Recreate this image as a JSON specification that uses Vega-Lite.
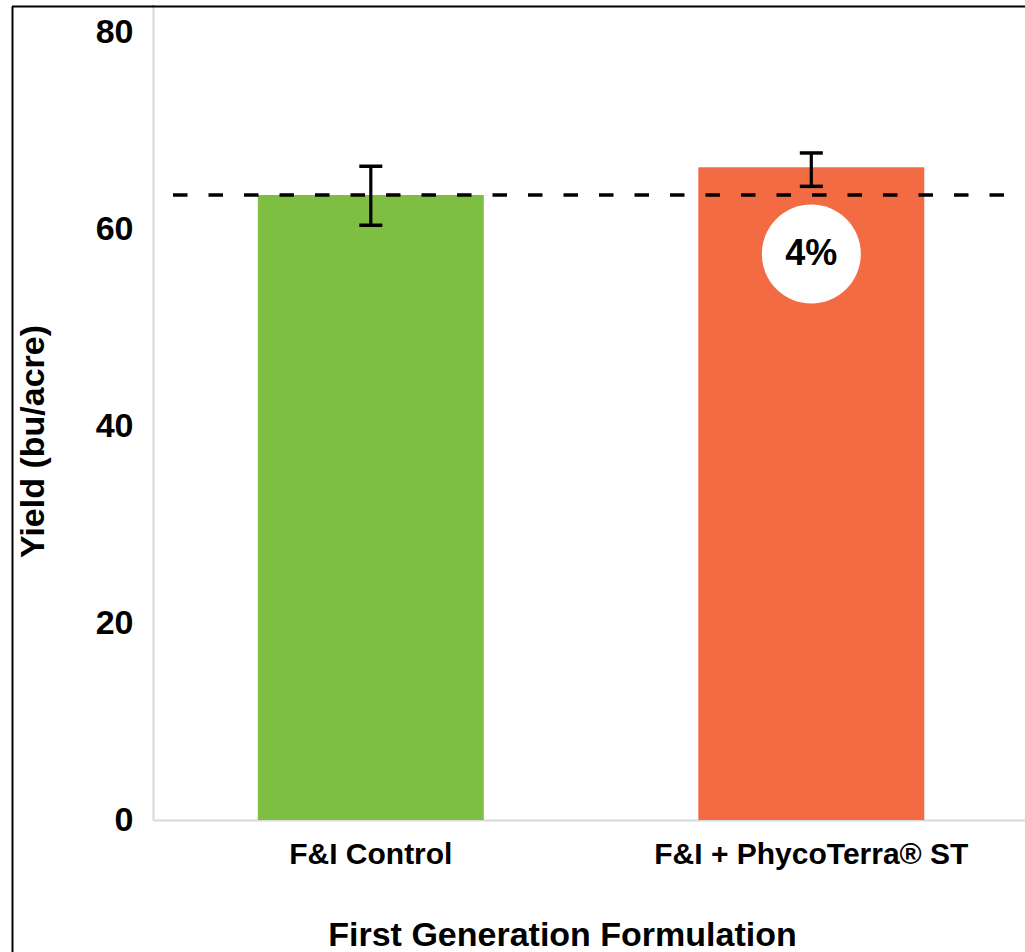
{
  "$schema": "https://vega.github.io/schema/vega-lite/v6.json",
  "width": 872,
  "height": 814,
  "autosize": "none",
  "padding": {"left": 153, "top": 6, "right": 0, "bottom": 132},
  "background": "white",
  "config": {
    "view": {"stroke": null},
    "font": "Liberation Sans",
    "axis": {"grid": false}
  },
  "datasets": {
    "bars": [
      {"treatment": "F&I Control", "yield": 63.45, "lo": 60.38, "hi": 66.37},
      {"treatment": "F&I + PhycoTerra® ST", "yield": 66.26, "lo": 64.33, "hi": 67.72}
    ],
    "note": [
      {"treatment": "F&I + PhycoTerra® ST", "pos": 57.46, "label": "4%"}
    ]
  },
  "layer": [
    {
      "data": {"name": "bars"},
      "mark": {"type": "bar"},
      "encoding": {
        "x": {
          "field": "treatment",
          "type": "nominal",
          "sort": null,
          "scale": {"paddingInner": 0.487, "paddingOuter": 0.2333, "align": 0.51},
          "axis": {
            "orient": "bottom",
            "labelAngle": 0,
            "labelFontSize": 30,
            "labelFontWeight": "bold",
            "labelColor": "#000000",
            "labelPadding": 43,
            "labelBaseline": "alphabetic",
            "labelLimit": 0,
            "ticks": false,
            "tickSize": 0,
            "domainColor": "#d9d9d9",
            "domainWidth": 2,
            "title": "First Generation Formulation",
            "titleFontSize": 34,
            "titleFontWeight": "bold",
            "titleColor": "#000000",
            "titleX": 409,
            "titleY": 125,
            "titleAlign": "center",
            "titleBaseline": "alphabetic",
            "titleLimit": 0
          }
        },
        "y": {
          "field": "yield",
          "type": "quantitative",
          "scale": {"domain": [0, 82.64], "nice": false, "zero": true},
          "axis": {
            "orient": "left",
            "values": [0, 20, 40, 60, 80],
            "labelFontSize": 34,
            "labelFontWeight": "bold",
            "labelColor": "#000000",
            "labelPadding": 20,
            "ticks": false,
            "tickSize": 0,
            "domainColor": "#d9d9d9",
            "domainWidth": 2,
            "title": "Yield (bu/acre)",
            "titleFontSize": 34,
            "titleFontWeight": "bold",
            "titleColor": "#000000",
            "titleAngle": -90,
            "titleX": -110,
            "titleY": 435,
            "titleAlign": "center",
            "titleBaseline": "alphabetic",
            "titleLimit": 0
          }
        },
        "color": {
          "field": "treatment",
          "type": "nominal",
          "scale": {"domain": ["F&I Control", "F&I + PhycoTerra® ST"], "range": ["#7DBE43", "#F26B43"]},
          "legend": null
        }
      }
    },
    {
      "data": {"name": "bars"},
      "transform": [{"filter": "datum.treatment == 'F&I Control'"}],
      "mark": {"type": "rule", "color": "#000000", "strokeWidth": 3.5, "strokeDash": [14.5, 21], "strokeDashOffset": 14.5},
      "encoding": {
        "y": {"field": "yield", "type": "quantitative", "axis": null}
      }
    },
    {
      "data": {"name": "bars"},
      "mark": {"type": "rule", "color": "#000000", "strokeWidth": 3.2},
      "encoding": {
        "x": {"field": "treatment", "type": "nominal", "sort": null, "axis": null},
        "y": {"field": "lo", "type": "quantitative", "axis": null},
        "y2": {"field": "hi"}
      }
    },
    {
      "data": {"name": "bars"},
      "mark": {"type": "tick", "color": "#000000", "size": 23, "thickness": 3.5, "opacity": 1},
      "encoding": {
        "x": {"field": "treatment", "type": "nominal", "sort": null, "axis": null},
        "y": {"field": "lo", "type": "quantitative", "axis": null}
      }
    },
    {
      "data": {"name": "bars"},
      "mark": {"type": "tick", "color": "#000000", "size": 23, "thickness": 3.5, "opacity": 1},
      "encoding": {
        "x": {"field": "treatment", "type": "nominal", "sort": null, "axis": null},
        "y": {"field": "hi", "type": "quantitative", "axis": null}
      }
    },
    {
      "data": {"name": "note"},
      "mark": {"type": "point", "shape": "circle", "filled": true, "color": "#ffffff", "opacity": 1, "size": 9800, "strokeWidth": 0},
      "encoding": {
        "x": {"field": "treatment", "type": "nominal", "sort": null, "axis": null},
        "y": {"field": "pos", "type": "quantitative", "axis": null}
      }
    },
    {
      "data": {"name": "note"},
      "mark": {"type": "text", "fontSize": 36, "fontWeight": "bold", "color": "#000000", "align": "center", "baseline": "middle", "dy": 0},
      "encoding": {
        "x": {"field": "treatment", "type": "nominal", "sort": null, "axis": null},
        "y": {"field": "pos", "type": "quantitative", "axis": null},
        "text": {"field": "label"}
      }
    },
    {
      "data": {"name": "bars"},
      "mark": {"type": "point", "opacity": 0},
      "encoding": {
        "x": {
          "field": "treatment",
          "type": "nominal",
          "sort": null,
          "axis": {
            "orient": "top",
            "labels": false,
            "values": ["F&I Control"],
            "bandPosition": -1.0856,
            "ticks": true,
            "tickSize": -946,
            "tickColor": "#000000",
            "tickWidth": 2,
            "title": null,
            "domain": true,
            "domainColor": "#000000",
            "domainWidth": 2,
            "domainCap": "square",
            "offset": 0
          }
        },
        "y": {
          "field": "yield",
          "type": "quantitative",
          "axis": {
            "orient": "left",
            "offset": 140.5,
            "values": [82.64],
            "labels": false,
            "ticks": true,
            "tickSize": -140.5,
            "tickColor": "#000000",
            "tickWidth": 2,
            "tickCap": "square",
            "title": null,
            "domain": false
          }
        }
      }
    }
  ],
  "resolve": {"axis": {"x": "independent", "y": "independent"}}
}
